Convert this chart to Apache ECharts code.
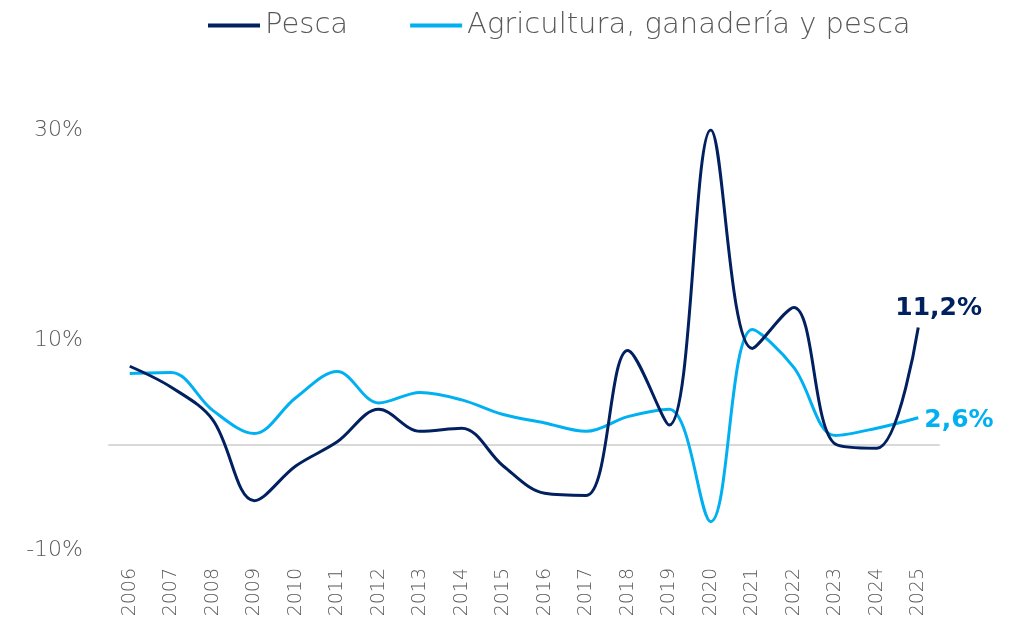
<!DOCTYPE html>
<html>
<head>
<meta charset="utf-8">
<script src="https://cdn.jsdelivr.net/npm/echarts@6/dist/echarts.min.js"></script>
<style>
  html, body { margin: 0; padding: 0; background: #fff; }
  #main { width: 1013px; height: 631px; }
</style>
</head>
<body>
<div id="main"></div>
<script>
// data
const years = ['2006', '2007', '2008', '2009', '2010', '2011', '2012', '2013', '2014', '2015',
  '2016', '2017', '2018', '2019', '2020', '2021', '2022', '2023', '2024', '2025'];
const pesca = [7.5, 5.5, 2.4, -5.3, -2.0, 0.3, 3.4, 1.3, 1.6, -2.0,
  -4.6, -4.8, 9.0, 1.9, 30.0, 9.2, 13.1, 0.1, -0.3, 11.2];
const agricultura = [6.8, 6.9, 3.3, 1.1, 4.5, 7.0, 4.0, 5.0, 4.3, 2.9,
  2.1, 1.3, 2.7, 3.4, -7.3, 11.0, 7.4, 0.9, 1.6, 2.6];
const yTicks = ['-10%', '10%', '30%'];

const NAVY = '#002060';
const CYAN = '#00b0f0';
const FONT = 'DejaVu Sans';

const chart = echarts.init(document.getElementById('main'));

function endLabel(color, offset) {
  return {
    show: true,
    offset: offset,
    formatter: (p) => p.value.toFixed(1).replace('.', ',') + '%',
    color: color,
    fontFamily: FONT,
    fontWeight: 'bold',
    fontSize: 25,
  };
}

const option = {
  animation: false,
  legend: {
    top: 6,
    left: 203,
    icon: 'rect',
    itemWidth: 52,
    itemHeight: 4,
    itemGap: 62,
    textStyle: { fontFamily: FONT, fontSize: 29, color: '#595959', fontWeight: 200 },
    data: ['Pesca', 'Agricultura, ganadería y pesca'],
  },
  grid: { left: 109, right: 74, top: 130, bottom: 81 },
  xAxis: [
    {
      type: 'category',
      data: years,
      axisLine: { show: false, onZero: false },
      axisTick: { show: false },
      axisLabel: {
        rotate: 90,
        margin: 18,
        fontFamily: FONT,
        fontSize: 19,
        color: '#595959',
        fontWeight: 200,
      },
    },
    {
      type: 'category',
      data: years,
      position: 'bottom',
      axisLine: { show: true, onZero: true, lineStyle: { color: '#d9d9d9', width: 2 } },
      axisTick: { show: false },
      axisLabel: { show: false },
    },
  ],
  yAxis: {
    type: 'value',
    min: -10,
    max: 30,
    interval: 10,
    splitLine: { show: false },
    axisLine: { show: false },
    axisTick: { show: false },
    axisLabel: {
      margin: 26,
      fontFamily: FONT,
      fontSize: 22,
      color: '#595959',
      fontWeight: 200,
      formatter: (v) => {
        const s = v + '%';
        return yTicks.indexOf(s) >= 0 ? s : '';
      },
    },
  },
  series: [
    {
      name: 'Pesca',
      type: 'line',
      smooth: 0.35,
      showSymbol: false,
      symbol: 'none',
      color: NAVY,
      lineStyle: { width: 3, color: NAVY },
      data: pesca,
      endLabel: endLabel(NAVY, [-31, -19]),
      z: 3,
    },
    {
      name: 'Agricultura, ganadería y pesca',
      type: 'line',
      smooth: 0.35,
      showSymbol: false,
      symbol: 'none',
      color: CYAN,
      lineStyle: { width: 3, color: CYAN },
      data: agricultura,
      endLabel: endLabel(CYAN, [-2, 3]),
      z: 2,
    },
  ],
};

chart.setOption(option);
</script>
</body>
</html>
